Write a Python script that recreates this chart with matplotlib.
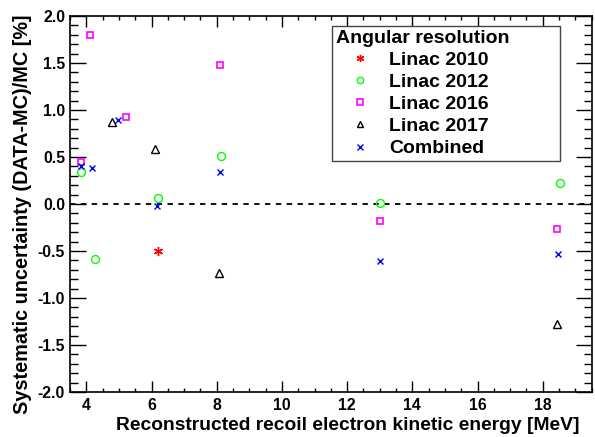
import matplotlib
matplotlib.use("Agg")
import matplotlib.pyplot as plt
from matplotlib.ticker import MultipleLocator

plt.rcParams['font.family'] = ['Liberation Sans', 'DejaVu Sans']
plt.rcParams['font.weight'] = 'bold'

# Data
x_2010 = [6.19]
y_2010 = [-0.50]

x_2012 = [3.85, 4.26, 6.19, 8.13, 13.02, 18.54]
y_2012 = [0.34, -0.58, 0.064, 0.51, 0.007, 0.22]

x_2016 = [3.84, 4.10, 5.22, 8.10, 13.02, 18.45]
y_2016 = [0.45, 1.80, 0.93, 1.48, -0.18, -0.27]

x_2017 = [4.79, 6.12, 8.07, 18.44]
y_2017 = [0.87, 0.58, -0.73, -1.28]

x_comb = [3.84, 4.19, 4.97, 6.17, 8.10, 13.02, 18.47]
y_comb = [0.40, 0.38, 0.89, -0.02, 0.34, -0.61, -0.535]

labels = ["Linac 2010", "Linac 2012", "Linac 2016", "Linac 2017", "Combined"]

fig = plt.figure(figsize=(5.95, 4.37), dpi=100)
ax = fig.add_axes([70/595, 45/437, 521.7/595, 376/437])

ms = 5
ax.plot(x_2010, y_2010, ls='none', marker=(6, 2, 0), color='red', ms=ms + 1.5, mew=1.0, label=labels[0])
ax.plot(x_2012, y_2012, ls='none', marker='o', mfc='none', mec='#00ff00', ms=ms + 0.7, mew=1.0, label=labels[1])
ax.plot(x_2016, y_2016, ls='none', marker='s', mfc='none', mec='#ff00ff', ms=ms, mew=1.2, label=labels[2])
ax.plot(x_2017, y_2017, ls='none', marker='^', mfc='none', mec='black', ms=ms + 0.5, mew=1.0, label=labels[3])
ax.plot(x_comb, y_comb, ls='none', marker='x', color='#0000ff', ms=ms, mew=1.0, label=labels[4])

ax.axhline(0, color='black', ls=(0, (3, 3)), lw=1.3, zorder=1)

ax.set_xlim(3.5, 19.5)
ax.set_ylim(-2.0, 2.0)
ax.xaxis.set_major_locator(MultipleLocator(2))
ax.xaxis.set_minor_locator(MultipleLocator(0.5))
ax.yaxis.set_major_locator(MultipleLocator(0.5))
ax.yaxis.set_minor_locator(MultipleLocator(0.1))
ax.yaxis.set_major_formatter(matplotlib.ticker.FormatStrFormatter('%.1f'))

ax.tick_params(axis='both', which='both', direction='in', top=True, right=True, width=1.0)
ax.tick_params(axis='x', which='major', length=8, pad=4.5, labelsize=11.3)
ax.tick_params(axis='x', which='minor', length=3.2)
ax.tick_params(axis='y', which='major', length=11.2, pad=3.6, labelsize=11.3)
ax.tick_params(axis='y', which='minor', length=5.6)
for s in ax.spines.values():
    s.set_linewidth(1.2)

ax.set_xlabel("Reconstructed recoil electron kinetic energy [MeV]", fontsize=13.9, fontweight='bold', ha='right', va='center')
ax.xaxis.set_label_coords((580 - 70) / 521.7, (392 - 425) / 376)
ax.set_ylabel("Systematic uncertainty (DATA-MC)/MC [%]", fontsize=14.3, fontweight='bold', ha='center', va='center')
ax.yaxis.set_label_coords((23 - 70) / 521.7, (392 - 214) / 376)

leg = ax.legend(loc='upper left', bbox_to_anchor=(0.5016, 0.624, 0.4374, 0.3494), mode='expand',
                borderaxespad=0, title="Angular resolution", alignment='left',
                title_fontproperties={'weight': 'bold', 'size': 14},
                frameon=True, fancybox=False, framealpha=1, edgecolor='#444444',
                handlelength=2.53, handletextpad=0.22, labelspacing=0.23, borderpad=0.2,
                prop={'weight': 'bold', 'size': 14}, markerscale=0.8)
leg.get_frame().set_linewidth(1.0)

fig.savefig("out.png", dpi=100)
